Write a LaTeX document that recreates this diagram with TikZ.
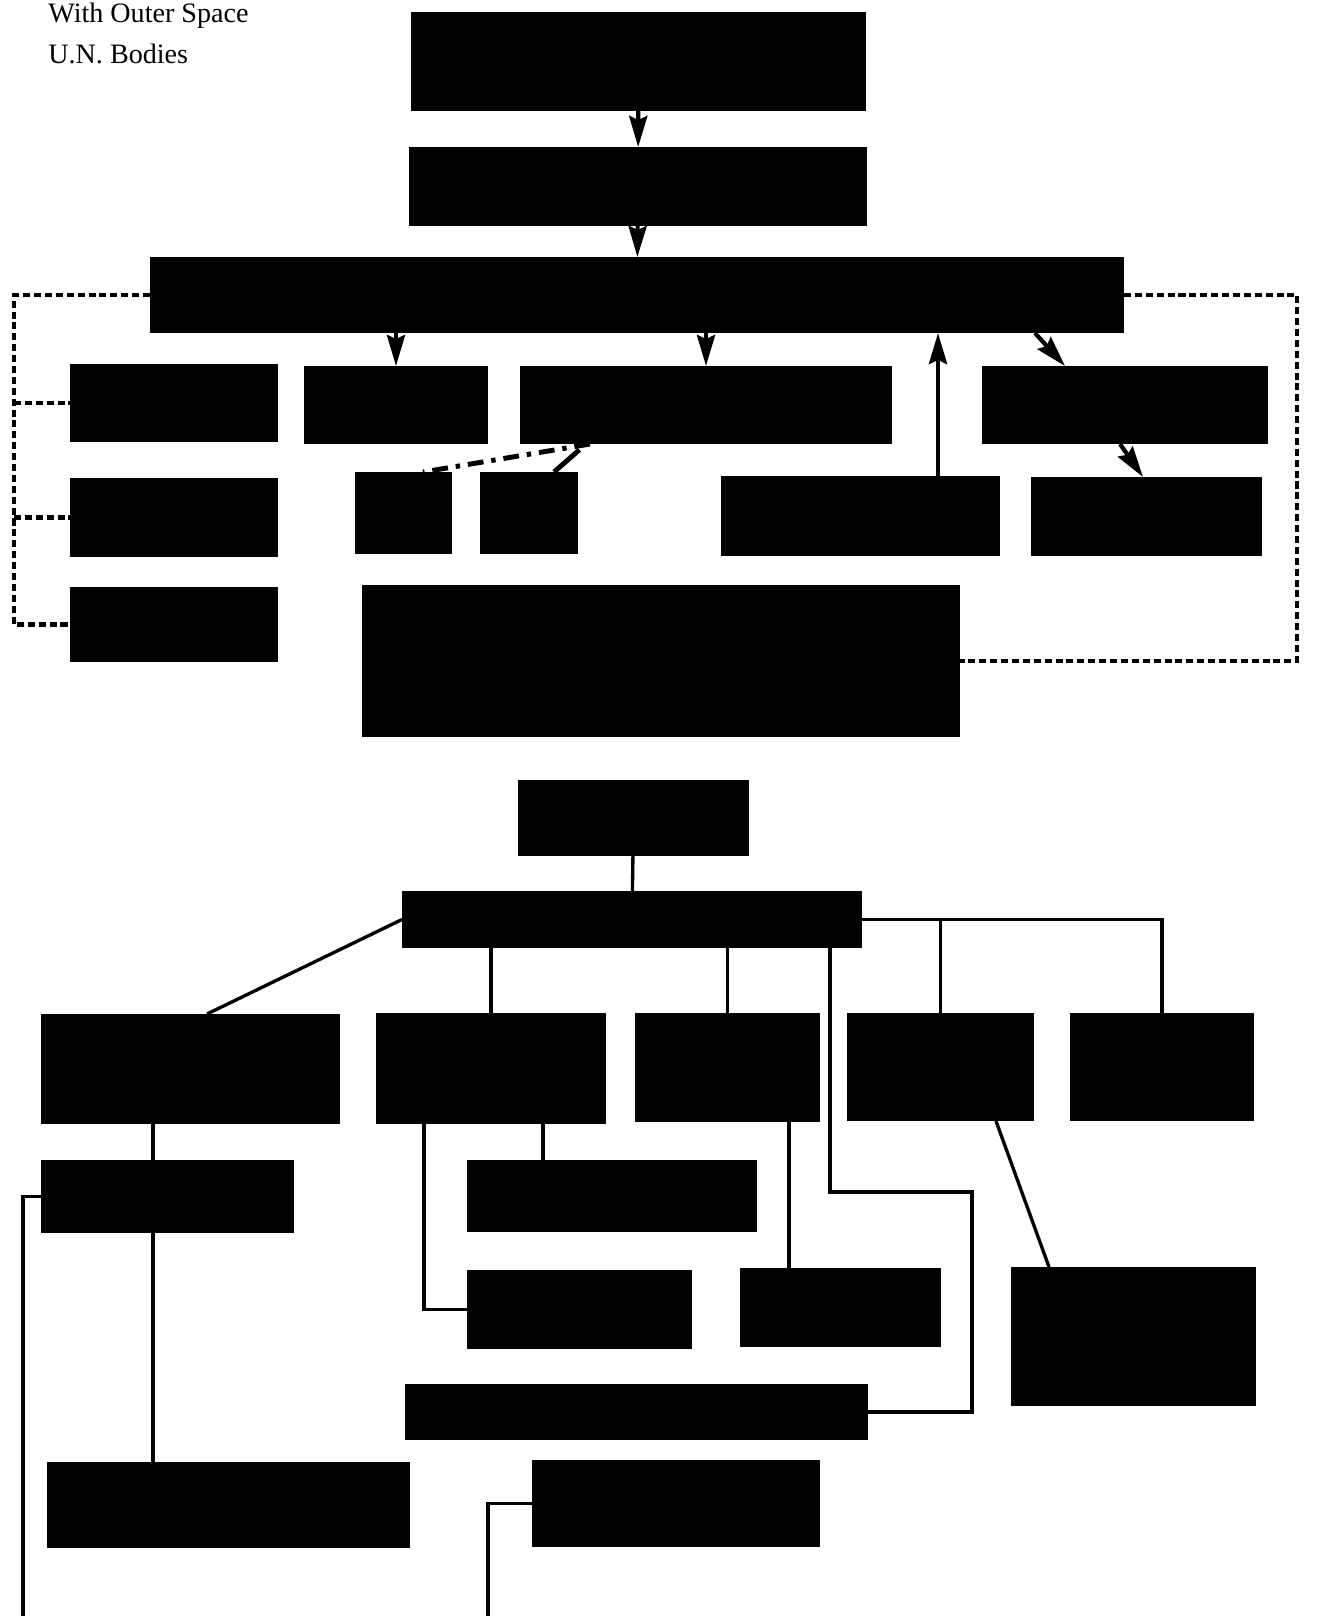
\documentclass[tikz,border=0pt]{standalone}
\usepackage{fontspec}
\setmainfont{Liberation Serif}
\usetikzlibrary{fit,arrows.meta}

\tikzset{
    box/.style={fill=black, inner sep=0pt, outer sep=0pt},
    arr/.style={-{Stealth[length=0.62cm,width=0.36cm,inset=0.08cm]}, line width=2.4pt},
    ln/.style={line width=1.9pt},
    dots/.style={line width=2.4pt, dash pattern=on 4pt off 2.2pt},
    dashdot/.style={line width=2.8pt, dash pattern=on 9pt off 4.5pt on 2.5pt off 4.5pt},
    legend/.style={anchor=base west, inner sep=0pt, font=\fontsize{16}{18}\selectfont},
}

\begin{document}
\begin{tikzpicture}[x=0.02cm, y=-0.02cm]
    \useasboundingbox (0,0) rectangle (1339,1616);

    \node[legend] (space) at (48,22) {With Outer Space};
    \node[legend] (un) at (48,63) {U.N. Bodies};

    % upper chart
    \node[box, fit={(411,12) (866,111)}] (t1) {};
    \node[box, fit={(409,147) (867,226)}] (t2) {};
    \node[box, fit={(150,257) (1124,333)}] (t3) {};
    \node[box, fit={(70,364) (278,442)}] (l1) {};
    \node[box, fit={(70,478) (278,557)}] (l2) {};
    \node[box, fit={(70,587) (278,662)}] (l3) {};
    \node[box, fit={(304,366) (488,444)}] (m1) {};
    \node[box, fit={(520,366) (892,444)}] (c) {};
    \node[box, fit={(982,366) (1268,444)}] (r1) {};
    \node[box, fit={(355,472) (452,554)}] (s1) {};
    \node[box, fit={(480,472) (578,554)}] (s2) {};
    \node[box, fit={(721,476) (1000,556)}] (r3) {};
    \node[box, fit={(1031,477) (1262,556)}] (r4) {};
    \node[box, fit={(362,585) (960,737)}] (bb) {};

    \coordinate (xl) at (14,0);
    \coordinate (xr) at (1297,0);
    \coordinate (xu) at (938,0);

    \draw[arr] (t1) -- (t2);
    \draw[arr] (t2) -- (t3);
    \draw[arr] (m1 |- t3.south) -- (m1.north);
    \draw[arr] (c |- t3.south) -- (c.north);
    \draw[arr] (xu |- r3.north) -- (xu |- t3.south);
    \draw[arr] ([xshift=7.96cm]t3.south) -- ([xshift=-1.2cm]r1.north);
    \draw[arr] ([xshift=-0.1cm]r1.south) -- ([xshift=-0.07cm]r4.north);

    \draw[dots] (t3.west) -| (xl |- l3.west) -- (l3.west);
    \draw[dots] (xl |- l1.west) -- (l1.west);
    \draw[dots] (xl |- l2.west) -- (l2.west);
    \draw[dots] (t3.east) -| (xr |- bb.east) -- (bb.east);

    \draw[dashdot] ([xshift=-2.32cm]c.south) -- ([xshift=0.39cm]s1.north);
    \draw[line width=2.8pt, shorten <=5pt] ([xshift=-2.4cm]c.south) -- ([xshift=0.5cm]s2.north);

    % lower chart
    \node[box, fit={(518,780) (749,856)}] (u1) {};
    \node[box, fit={(402,891) (862,948)}] (u2) {};
    \node[box, fit={(41,1014) (340,1124)}] (v1) {};
    \node[box, fit={(376,1013) (606,1124)}] (v2) {};
    \node[box, fit={(635,1013) (820,1122)}] (v3) {};
    \node[box, fit={(847,1013) (1034,1121)}] (v4) {};
    \node[box, fit={(1070,1013) (1254,1121)}] (v5) {};
    \node[box, fit={(41,1160) (294,1233)}] (v1a) {};
    \node[box, fit={(47,1462) (410,1548)}] (v1b) {};
    \node[box, fit={(467,1160) (757,1232)}] (v2a) {};
    \node[box, fit={(467,1270) (692,1349)}] (v2b) {};
    \node[box, fit={(740,1268) (941,1347)}] (v3a) {};
    \node[box, fit={(1011,1267) (1256,1406)}] (v4a) {};
    \node[box, fit={(405,1384) (868,1440)}] (wide) {};
    \node[box, fit={(532,1460) (820,1547)}] (low) {};

    \coordinate (xa) at (153,0);
    \coordinate (xb) at (543,0);
    \coordinate (xb2) at (424,0);
    \coordinate (xc) at (789,0);
    \coordinate (bend) at (972,1192);
    \coordinate (end1) at (23,1616);
    \coordinate (end2) at (488,1616);

    \draw[ln] (u1) -- (u2);
    \draw[ln] (u2.west) -- ([xshift=0.33cm]v1.north);
    \draw[ln] (v2 |- u2.south) -- (v2.north);
    \draw[ln] (v3 |- u2.south) -- (v3.north);
    \draw[ln] (u2.east) -| (v5.north);
    \draw[ln] (v4 |- u2.east) -- (v4.north);
    \draw[ln] ([xshift=3.96cm]u2.south) |- (bend) |- (wide.east);
    \draw[ln] (xa |- v1.south) -- (xa |- v1a.north);
    \draw[ln] (xa |- v1a.south) -- (xa |- v1b.north);
    \draw[ln] (v1a.west) -| (end1);
    \draw[ln] (xb |- v2.south) -- (xb |- v2a.north);
    \draw[ln] (xb2 |- v2.south) |- (v2b.west);
    \draw[ln] (xc |- v3.south) -- (xc |- v3a.north);
    \draw[ln] ([xshift=1.11cm]v4.south) -- ([xshift=-1.69cm]v4a.north);
    \draw[ln] (low.west) -| (end2);
\end{tikzpicture}
\end{document}
